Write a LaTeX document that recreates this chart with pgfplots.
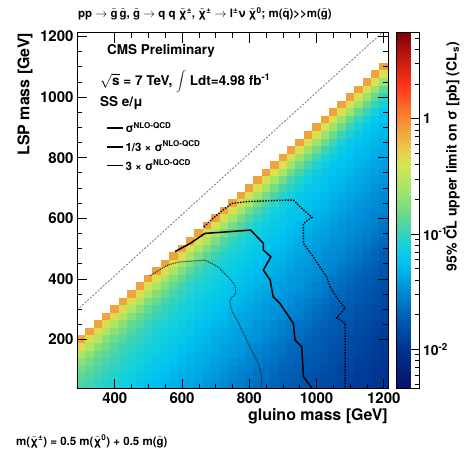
\documentclass[border=0pt]{standalone}
\usepackage{pgfplots}
\pgfplotsset{compat=1.18}
\usepackage{pgfplotstable}
\usepackage{fontspec}
\setmainfont{TeX Gyre Heros}
\newcommand{\tl}[1]{\ensuremath{\tilde{\hbox{#1}}}}

% ROOT-like rainbow palette, positions follow log10(limit) from -2.34 to 0.745
\pgfplotsset{colormap={cmsrainbow}{
  rgb(0pt)=(0.04,0.07,0.40)
  rgb(110pt)=(0.00,0.20,0.56)
  rgb(207pt)=(0.00,0.38,0.72)
  rgb(288pt)=(0.00,0.58,0.86)
  rgb(353pt)=(0.00,0.76,0.94)
  rgb(402pt)=(0.08,0.82,0.86)
  rgb(451pt)=(0.27,0.83,0.68)
  rgb(499pt)=(0.45,0.86,0.52)
  rgb(564pt)=(0.65,0.90,0.40)
  rgb(629pt)=(0.84,0.90,0.32)
  rgb(677pt)=(0.92,0.78,0.28)
  rgb(726pt)=(0.94,0.64,0.24)
  rgb(791pt)=(0.98,0.42,0.16)
  rgb(856pt)=(1.00,0.20,0.10)
  rgb(1000pt)=(0.50,0.00,0.03)
}}

% 95% CL upper limit [pb], gluino mass x, LSP mass y (25 GeV cells)
\pgfplotstableread[row sep=\\]{
x y v\\
300 200 0.794\\ 325 225 0.794\\ 350 250 0.794\\ 375 275 0.794\\ 400 300 0.794\\ 425 325 0.794\\ 450 350 0.794\\ 475 375 0.794\\ 500 400 0.794\\ 525 425 0.794\\ 550 450 0.794\\ 575 475 0.794\\ 600 500 0.794\\ 625 525 0.794\\ 650 550 0.794\\ 675 575 0.794\\ 700 600 0.794\\ 725 625 0.794\\ 750 650 0.794\\ 775 675 0.794\\ 800 700 0.794\\ 825 725 0.794\\ 850 750 0.794\\ 875 775 0.794\\ 900 800 0.794\\ 925 825 0.794\\ 950 850 0.794\\ 975 875 0.794\\ 1000 900 0.794\\ 1025 925 0.794\\ 1050 950 0.794\\ 1075 975 0.794\\ 1100 1000 0.794\\ 1125 1025 0.794\\ 1150 1050 0.794\\ 1175 1075 0.794\\ 1200 1100 0.794\\
300 175 0.447\\ 325 200 0.447\\ 350 225 0.447\\ 375 250 0.447\\ 400 275 0.447\\ 425 300 0.447\\ 450 325 0.447\\ 475 350 0.447\\ 500 375 0.434\\ 525 400 0.434\\ 550 425 0.434\\ 575 450 0.434\\ 600 475 0.434\\ 625 500 0.434\\ 650 525 0.434\\ 675 550 0.434\\ 700 575 0.434\\ 725 600 0.434\\ 750 625 0.434\\ 775 650 0.434\\ 800 675 0.434\\ 825 700 0.434\\ 850 725 0.434\\ 875 750 0.422\\ 900 775 0.422\\ 925 800 0.422\\ 950 825 0.422\\ 975 850 0.422\\ 1000 875 0.422\\ 1025 900 0.422\\ 1050 925 0.422\\ 1075 950 0.422\\ 1100 975 0.422\\ 1125 1000 0.422\\ 1150 1025 0.422\\ 1175 1050 0.422\\ 1200 1075 0.422\\
300 150 0.282\\ 325 175 0.282\\ 350 200 0.282\\ 375 225 0.274\\ 400 250 0.274\\ 425 275 0.274\\ 450 300 0.274\\ 475 325 0.266\\ 500 350 0.266\\ 525 375 0.266\\ 550 400 0.266\\ 575 425 0.266\\ 600 450 0.259\\ 625 475 0.259\\ 650 500 0.259\\ 675 525 0.259\\ 700 550 0.251\\ 725 575 0.251\\ 750 600 0.251\\ 775 625 0.251\\ 800 650 0.251\\ 825 675 0.244\\ 850 700 0.244\\ 875 725 0.244\\ 900 750 0.244\\ 925 775 0.237\\ 950 800 0.237\\ 975 825 0.237\\ 1000 850 0.237\\ 1025 875 0.237\\ 1050 900 0.230\\ 1075 925 0.230\\ 1100 950 0.230\\ 1125 975 0.230\\ 1150 1000 0.224\\ 1175 1025 0.224\\ 1200 1050 0.224\\
300 125 0.200\\ 325 150 0.200\\ 350 175 0.194\\ 375 200 0.194\\ 400 225 0.194\\ 425 250 0.188\\ 450 275 0.188\\ 475 300 0.188\\ 500 325 0.183\\ 525 350 0.183\\ 550 375 0.183\\ 575 400 0.178\\ 600 425 0.178\\ 625 450 0.178\\ 650 475 0.173\\ 675 500 0.173\\ 700 525 0.173\\ 725 550 0.168\\ 750 575 0.168\\ 775 600 0.168\\ 800 625 0.163\\ 825 650 0.163\\ 850 675 0.163\\ 875 700 0.158\\ 900 725 0.158\\ 925 750 0.158\\ 950 775 0.154\\ 975 800 0.154\\ 1000 825 0.154\\ 1025 850 0.150\\ 1050 875 0.150\\ 1075 900 0.150\\ 1100 925 0.145\\ 1125 950 0.145\\ 1150 975 0.145\\ 1175 1000 0.141\\ 1200 1025 0.141\\
300 100 0.158\\ 325 125 0.158\\ 350 150 0.154\\ 375 175 0.154\\ 400 200 0.150\\ 425 225 0.150\\ 450 250 0.145\\ 475 275 0.145\\ 500 300 0.141\\ 525 325 0.141\\ 550 350 0.141\\ 575 375 0.137\\ 600 400 0.137\\ 625 425 0.133\\ 650 450 0.133\\ 675 475 0.130\\ 700 500 0.130\\ 725 525 0.126\\ 750 550 0.126\\ 775 575 0.126\\ 800 600 0.122\\ 825 625 0.122\\ 850 650 0.119\\ 875 675 0.119\\ 900 700 0.115\\ 925 725 0.115\\ 950 750 0.112\\ 975 775 0.112\\ 1000 800 0.112\\ 1025 825 0.109\\ 1050 850 0.109\\ 1075 875 0.106\\ 1100 900 0.106\\ 1125 925 0.103\\ 1150 950 0.103\\ 1175 975 0.100\\ 1200 1000 0.100\\
300 75 0.133\\ 325 100 0.133\\ 350 125 0.130\\ 375 150 0.130\\ 400 175 0.126\\ 425 200 0.126\\ 450 225 0.122\\ 475 250 0.122\\ 500 275 0.119\\ 525 300 0.115\\ 550 325 0.115\\ 575 350 0.112\\ 600 375 0.112\\ 625 400 0.109\\ 650 425 0.109\\ 675 450 0.106\\ 700 475 0.106\\ 725 500 0.103\\ 750 525 0.100\\ 775 550 0.100\\ 800 575 0.0972\\ 825 600 0.0972\\ 850 625 0.0944\\ 875 650 0.0944\\ 900 675 0.0917\\ 925 700 0.0917\\ 950 725 0.0891\\ 975 750 0.0866\\ 1000 775 0.0866\\ 1025 800 0.0841\\ 1050 825 0.0841\\ 1075 850 0.0818\\ 1100 875 0.0818\\ 1125 900 0.0794\\ 1150 925 0.0794\\ 1175 950 0.0772\\ 1200 975 0.0750\\
300 50 0.119\\ 325 75 0.119\\ 350 100 0.115\\ 375 125 0.115\\ 400 150 0.112\\ 425 175 0.109\\ 450 200 0.109\\ 475 225 0.106\\ 500 250 0.103\\ 525 275 0.103\\ 550 300 0.100\\ 575 325 0.100\\ 600 350 0.0972\\ 625 375 0.0944\\ 650 400 0.0944\\ 675 425 0.0917\\ 700 450 0.0891\\ 725 475 0.0891\\ 750 500 0.0866\\ 775 525 0.0866\\ 800 550 0.0841\\ 825 575 0.0818\\ 850 600 0.0818\\ 875 625 0.0794\\ 900 650 0.0772\\ 925 675 0.0772\\ 950 700 0.0750\\ 975 725 0.0750\\ 1000 750 0.0729\\ 1025 775 0.0708\\ 1050 800 0.0708\\ 1075 825 0.0688\\ 1100 850 0.0668\\ 1125 875 0.0668\\ 1150 900 0.0649\\ 1175 925 0.0649\\ 1200 950 0.0631\\
325 50 0.109\\ 350 75 0.106\\ 375 100 0.103\\ 400 125 0.103\\ 425 150 0.100\\ 450 175 0.0972\\ 475 200 0.0972\\ 500 225 0.0944\\ 525 250 0.0917\\ 550 275 0.0917\\ 575 300 0.0891\\ 600 325 0.0866\\ 625 350 0.0866\\ 650 375 0.0841\\ 675 400 0.0841\\ 700 425 0.0818\\ 725 450 0.0794\\ 750 475 0.0794\\ 775 500 0.0772\\ 800 525 0.0750\\ 825 550 0.0750\\ 850 575 0.0729\\ 875 600 0.0708\\ 900 625 0.0708\\ 925 650 0.0688\\ 950 675 0.0668\\ 975 700 0.0668\\ 1000 725 0.0649\\ 1025 750 0.0649\\ 1050 775 0.0631\\ 1075 800 0.0613\\ 1100 825 0.0613\\ 1125 850 0.0596\\ 1150 875 0.0579\\ 1175 900 0.0579\\ 1200 925 0.0562\\
350 50 0.0972\\ 375 75 0.0944\\ 400 100 0.0944\\ 425 125 0.0917\\ 450 150 0.0891\\ 475 175 0.0891\\ 500 200 0.0866\\ 525 225 0.0841\\ 550 250 0.0841\\ 575 275 0.0818\\ 600 300 0.0818\\ 625 325 0.0794\\ 650 350 0.0772\\ 675 375 0.0772\\ 700 400 0.0750\\ 725 425 0.0729\\ 750 450 0.0729\\ 775 475 0.0708\\ 800 500 0.0708\\ 825 525 0.0688\\ 850 550 0.0668\\ 875 575 0.0668\\ 900 600 0.0649\\ 925 625 0.0631\\ 950 650 0.0631\\ 975 675 0.0613\\ 1000 700 0.0613\\ 1025 725 0.0596\\ 1050 750 0.0579\\ 1075 775 0.0579\\ 1100 800 0.0562\\ 1125 825 0.0546\\ 1150 850 0.0546\\ 1175 875 0.0531\\ 1200 900 0.0531\\
375 50 0.0891\\ 400 75 0.0866\\ 425 100 0.0866\\ 450 125 0.0841\\ 475 150 0.0818\\ 500 175 0.0818\\ 525 200 0.0794\\ 550 225 0.0772\\ 575 250 0.0772\\ 600 275 0.0750\\ 625 300 0.0750\\ 650 325 0.0729\\ 675 350 0.0708\\ 700 375 0.0708\\ 725 400 0.0688\\ 750 425 0.0688\\ 775 450 0.0668\\ 800 475 0.0649\\ 825 500 0.0649\\ 850 525 0.0631\\ 875 550 0.0631\\ 900 575 0.0613\\ 925 600 0.0596\\ 950 625 0.0596\\ 975 650 0.0579\\ 1000 675 0.0562\\ 1025 700 0.0562\\ 1050 725 0.0546\\ 1075 750 0.0546\\ 1100 775 0.0531\\ 1125 800 0.0516\\ 1150 825 0.0516\\ 1175 850 0.0501\\ 1200 875 0.0501\\
400 50 0.0818\\ 425 75 0.0794\\ 450 100 0.0794\\ 475 125 0.0772\\ 500 150 0.0750\\ 525 175 0.0750\\ 550 200 0.0729\\ 575 225 0.0729\\ 600 250 0.0708\\ 625 275 0.0688\\ 650 300 0.0688\\ 675 325 0.0668\\ 700 350 0.0668\\ 725 375 0.0649\\ 750 400 0.0631\\ 775 425 0.0631\\ 800 450 0.0613\\ 825 475 0.0613\\ 850 500 0.0596\\ 875 525 0.0579\\ 900 550 0.0579\\ 925 575 0.0562\\ 950 600 0.0562\\ 975 625 0.0546\\ 1000 650 0.0531\\ 1025 675 0.0531\\ 1050 700 0.0516\\ 1075 725 0.0516\\ 1100 750 0.0501\\ 1125 775 0.0487\\ 1150 800 0.0487\\ 1175 825 0.0473\\ 1200 850 0.0473\\
425 50 0.0750\\ 450 75 0.0729\\ 475 100 0.0729\\ 500 125 0.0708\\ 525 150 0.0688\\ 550 175 0.0688\\ 575 200 0.0668\\ 600 225 0.0668\\ 625 250 0.0649\\ 650 275 0.0649\\ 675 300 0.0631\\ 700 325 0.0613\\ 725 350 0.0613\\ 750 375 0.0596\\ 775 400 0.0596\\ 800 425 0.0579\\ 825 450 0.0562\\ 850 475 0.0562\\ 875 500 0.0546\\ 900 525 0.0546\\ 925 550 0.0531\\ 950 575 0.0516\\ 975 600 0.0516\\ 1000 625 0.0501\\ 1025 650 0.0501\\ 1050 675 0.0487\\ 1075 700 0.0487\\ 1100 725 0.0473\\ 1125 750 0.0460\\ 1150 775 0.0460\\ 1175 800 0.0447\\ 1200 825 0.0447\\
450 50 0.0688\\ 475 75 0.0668\\ 500 100 0.0668\\ 525 125 0.0649\\ 550 150 0.0649\\ 575 175 0.0631\\ 600 200 0.0613\\ 625 225 0.0613\\ 650 250 0.0596\\ 675 275 0.0596\\ 700 300 0.0579\\ 725 325 0.0579\\ 750 350 0.0562\\ 775 375 0.0546\\ 800 400 0.0546\\ 825 425 0.0531\\ 850 450 0.0531\\ 875 475 0.0516\\ 900 500 0.0516\\ 925 525 0.0501\\ 950 550 0.0487\\ 975 575 0.0487\\ 1000 600 0.0473\\ 1025 625 0.0473\\ 1050 650 0.0460\\ 1075 675 0.0447\\ 1100 700 0.0447\\ 1125 725 0.0434\\ 1150 750 0.0434\\ 1175 775 0.0422\\ 1200 800 0.0422\\
475 50 0.0631\\ 500 75 0.0631\\ 525 100 0.0613\\ 550 125 0.0613\\ 575 150 0.0596\\ 600 175 0.0579\\ 625 200 0.0579\\ 650 225 0.0562\\ 675 250 0.0562\\ 700 275 0.0546\\ 725 300 0.0546\\ 750 325 0.0531\\ 775 350 0.0516\\ 800 375 0.0516\\ 825 400 0.0501\\ 850 425 0.0501\\ 875 450 0.0487\\ 900 475 0.0487\\ 925 500 0.0473\\ 950 525 0.0460\\ 975 550 0.0460\\ 1000 575 0.0447\\ 1025 600 0.0447\\ 1050 625 0.0434\\ 1075 650 0.0422\\ 1100 675 0.0422\\ 1125 700 0.0410\\ 1150 725 0.0410\\ 1175 750 0.0398\\ 1200 775 0.0398\\
500 50 0.0596\\ 525 75 0.0579\\ 550 100 0.0579\\ 575 125 0.0562\\ 600 150 0.0546\\ 625 175 0.0546\\ 650 200 0.0531\\ 675 225 0.0531\\ 700 250 0.0516\\ 725 275 0.0516\\ 750 300 0.0501\\ 775 325 0.0487\\ 800 350 0.0487\\ 825 375 0.0473\\ 850 400 0.0473\\ 875 425 0.0460\\ 900 450 0.0460\\ 925 475 0.0447\\ 950 500 0.0434\\ 975 525 0.0434\\ 1000 550 0.0422\\ 1025 575 0.0422\\ 1050 600 0.0410\\ 1075 625 0.0398\\ 1100 650 0.0398\\ 1125 675 0.0387\\ 1150 700 0.0387\\ 1175 725 0.0376\\ 1200 750 0.0376\\
525 50 0.0546\\ 550 75 0.0546\\ 575 100 0.0531\\ 600 125 0.0516\\ 625 150 0.0516\\ 650 175 0.0501\\ 675 200 0.0501\\ 700 225 0.0487\\ 725 250 0.0487\\ 750 275 0.0473\\ 775 300 0.0460\\ 800 325 0.0460\\ 825 350 0.0447\\ 850 375 0.0447\\ 875 400 0.0434\\ 900 425 0.0434\\ 925 450 0.0422\\ 950 475 0.0410\\ 975 500 0.0410\\ 1000 525 0.0398\\ 1025 550 0.0398\\ 1050 575 0.0387\\ 1075 600 0.0376\\ 1100 625 0.0376\\ 1125 650 0.0365\\ 1150 675 0.0365\\ 1175 700 0.0355\\ 1200 725 0.0355\\
550 50 0.0516\\ 575 75 0.0501\\ 600 100 0.0487\\ 625 125 0.0487\\ 650 150 0.0473\\ 675 175 0.0473\\ 700 200 0.0460\\ 725 225 0.0460\\ 750 250 0.0447\\ 775 275 0.0434\\ 800 300 0.0434\\ 825 325 0.0422\\ 850 350 0.0422\\ 875 375 0.0410\\ 900 400 0.0410\\ 925 425 0.0398\\ 950 450 0.0387\\ 975 475 0.0387\\ 1000 500 0.0376\\ 1025 525 0.0376\\ 1050 550 0.0365\\ 1075 575 0.0355\\ 1100 600 0.0355\\ 1125 625 0.0345\\ 1150 650 0.0345\\ 1175 675 0.0335\\ 1200 700 0.0335\\
575 50 0.0473\\ 600 75 0.0473\\ 625 100 0.0460\\ 650 125 0.0460\\ 675 150 0.0447\\ 700 175 0.0447\\ 725 200 0.0434\\ 750 225 0.0422\\ 775 250 0.0422\\ 800 275 0.0410\\ 825 300 0.0410\\ 850 325 0.0398\\ 875 350 0.0398\\ 900 375 0.0387\\ 925 400 0.0376\\ 950 425 0.0376\\ 975 450 0.0365\\ 1000 475 0.0365\\ 1025 500 0.0355\\ 1050 525 0.0345\\ 1075 550 0.0345\\ 1100 575 0.0335\\ 1125 600 0.0335\\ 1150 625 0.0326\\ 1175 650 0.0326\\ 1200 675 0.0316\\
600 50 0.0447\\ 625 75 0.0447\\ 650 100 0.0434\\ 675 125 0.0434\\ 700 150 0.0422\\ 725 175 0.0410\\ 750 200 0.0410\\ 775 225 0.0398\\ 800 250 0.0398\\ 825 275 0.0387\\ 850 300 0.0376\\ 875 325 0.0376\\ 900 350 0.0365\\ 925 375 0.0365\\ 950 400 0.0355\\ 975 425 0.0355\\ 1000 450 0.0345\\ 1025 475 0.0335\\ 1050 500 0.0335\\ 1075 525 0.0326\\ 1100 550 0.0326\\ 1125 575 0.0316\\ 1150 600 0.0316\\ 1175 625 0.0307\\ 1200 650 0.0299\\
625 50 0.0422\\ 650 75 0.0422\\ 675 100 0.0410\\ 700 125 0.0398\\ 725 150 0.0398\\ 750 175 0.0387\\ 775 200 0.0387\\ 800 225 0.0376\\ 825 250 0.0365\\ 850 275 0.0365\\ 875 300 0.0355\\ 900 325 0.0355\\ 925 350 0.0345\\ 950 375 0.0345\\ 975 400 0.0335\\ 1000 425 0.0326\\ 1025 450 0.0326\\ 1050 475 0.0316\\ 1075 500 0.0316\\ 1100 525 0.0307\\ 1125 550 0.0307\\ 1150 575 0.0299\\ 1175 600 0.0290\\ 1200 625 0.0290\\
650 50 0.0398\\ 675 75 0.0387\\ 700 100 0.0387\\ 725 125 0.0376\\ 750 150 0.0376\\ 775 175 0.0365\\ 800 200 0.0355\\ 825 225 0.0355\\ 850 250 0.0345\\ 875 275 0.0345\\ 900 300 0.0335\\ 925 325 0.0335\\ 950 350 0.0326\\ 975 375 0.0316\\ 1000 400 0.0316\\ 1025 425 0.0307\\ 1050 450 0.0307\\ 1075 475 0.0299\\ 1100 500 0.0290\\ 1125 525 0.0290\\ 1150 550 0.0282\\ 1175 575 0.0282\\ 1200 600 0.0274\\
675 50 0.0365\\ 700 75 0.0365\\ 725 100 0.0355\\ 750 125 0.0345\\ 775 150 0.0345\\ 800 175 0.0335\\ 825 200 0.0335\\ 850 225 0.0326\\ 875 250 0.0316\\ 900 275 0.0316\\ 925 300 0.0307\\ 950 325 0.0307\\ 975 350 0.0299\\ 1000 375 0.0290\\ 1025 400 0.0290\\ 1050 425 0.0282\\ 1075 450 0.0274\\ 1100 475 0.0274\\ 1125 500 0.0266\\ 1150 525 0.0266\\ 1175 550 0.0259\\ 1200 575 0.0251\\
700 50 0.0345\\ 725 75 0.0335\\ 750 100 0.0326\\ 775 125 0.0326\\ 800 150 0.0316\\ 825 175 0.0307\\ 850 200 0.0307\\ 875 225 0.0299\\ 900 250 0.0290\\ 925 275 0.0290\\ 950 300 0.0282\\ 975 325 0.0274\\ 1000 350 0.0274\\ 1025 375 0.0266\\ 1050 400 0.0259\\ 1075 425 0.0259\\ 1100 450 0.0251\\ 1125 475 0.0251\\ 1150 500 0.0244\\ 1175 525 0.0237\\ 1200 550 0.0237\\
725 50 0.0316\\ 750 75 0.0307\\ 775 100 0.0299\\ 800 125 0.0299\\ 825 150 0.0290\\ 850 175 0.0282\\ 875 200 0.0282\\ 900 225 0.0274\\ 925 250 0.0266\\ 950 275 0.0266\\ 975 300 0.0259\\ 1000 325 0.0251\\ 1025 350 0.0251\\ 1050 375 0.0244\\ 1075 400 0.0237\\ 1100 425 0.0237\\ 1125 450 0.0230\\ 1150 475 0.0224\\ 1175 500 0.0218\\ 1200 525 0.0218\\
750 50 0.0290\\ 775 75 0.0282\\ 800 100 0.0282\\ 825 125 0.0274\\ 850 150 0.0266\\ 875 175 0.0259\\ 900 200 0.0259\\ 925 225 0.0251\\ 950 250 0.0244\\ 975 275 0.0244\\ 1000 300 0.0237\\ 1025 325 0.0230\\ 1050 350 0.0224\\ 1075 375 0.0224\\ 1100 400 0.0218\\ 1125 425 0.0211\\ 1150 450 0.0205\\ 1175 475 0.0205\\ 1200 500 0.0200\\
775 50 0.0274\\ 800 75 0.0266\\ 825 100 0.0259\\ 850 125 0.0251\\ 875 150 0.0251\\ 900 175 0.0244\\ 925 200 0.0237\\ 950 225 0.0230\\ 975 250 0.0230\\ 1000 275 0.0224\\ 1025 300 0.0218\\ 1050 325 0.0211\\ 1075 350 0.0211\\ 1100 375 0.0205\\ 1125 400 0.0200\\ 1150 425 0.0194\\ 1175 450 0.0194\\ 1200 475 0.0188\\
800 50 0.0251\\ 825 75 0.0244\\ 850 100 0.0237\\ 875 125 0.0237\\ 900 150 0.0230\\ 925 175 0.0224\\ 950 200 0.0218\\ 975 225 0.0218\\ 1000 250 0.0211\\ 1025 275 0.0205\\ 1050 300 0.0200\\ 1075 325 0.0200\\ 1100 350 0.0194\\ 1125 375 0.0188\\ 1150 400 0.0183\\ 1175 425 0.0183\\ 1200 450 0.0178\\
825 50 0.0230\\ 850 75 0.0230\\ 875 100 0.0224\\ 900 125 0.0218\\ 925 150 0.0211\\ 950 175 0.0211\\ 975 200 0.0205\\ 1000 225 0.0200\\ 1025 250 0.0194\\ 1050 275 0.0194\\ 1075 300 0.0188\\ 1100 325 0.0183\\ 1125 350 0.0178\\ 1150 375 0.0178\\ 1175 400 0.0173\\ 1200 425 0.0168\\
850 50 0.0218\\ 875 75 0.0211\\ 900 100 0.0205\\ 925 125 0.0205\\ 950 150 0.0200\\ 975 175 0.0194\\ 1000 200 0.0188\\ 1025 225 0.0183\\ 1050 250 0.0183\\ 1075 275 0.0178\\ 1100 300 0.0173\\ 1125 325 0.0168\\ 1150 350 0.0168\\ 1175 375 0.0163\\ 1200 400 0.0158\\
875 50 0.0205\\ 900 75 0.0200\\ 925 100 0.0194\\ 950 125 0.0188\\ 975 150 0.0188\\ 1000 175 0.0183\\ 1025 200 0.0178\\ 1050 225 0.0173\\ 1075 250 0.0168\\ 1100 275 0.0168\\ 1125 300 0.0163\\ 1150 325 0.0158\\ 1175 350 0.0154\\ 1200 375 0.0154\\
900 50 0.0188\\ 925 75 0.0188\\ 950 100 0.0183\\ 975 125 0.0178\\ 1000 150 0.0173\\ 1025 175 0.0173\\ 1050 200 0.0168\\ 1075 225 0.0163\\ 1100 250 0.0158\\ 1125 275 0.0154\\ 1150 300 0.0154\\ 1175 325 0.0150\\ 1200 350 0.0145\\
925 50 0.0178\\ 950 75 0.0178\\ 975 100 0.0173\\ 1000 125 0.0168\\ 1025 150 0.0163\\ 1050 175 0.0158\\ 1075 200 0.0158\\ 1100 225 0.0154\\ 1125 250 0.0150\\ 1150 275 0.0145\\ 1175 300 0.0141\\ 1200 325 0.0141\\
950 50 0.0168\\ 975 75 0.0163\\ 1000 100 0.0158\\ 1025 125 0.0158\\ 1050 150 0.0154\\ 1075 175 0.0150\\ 1100 200 0.0145\\ 1125 225 0.0141\\ 1150 250 0.0141\\ 1175 275 0.0137\\ 1200 300 0.0133\\
975 50 0.0158\\ 1000 75 0.0154\\ 1025 100 0.0150\\ 1050 125 0.0150\\ 1075 150 0.0145\\ 1100 175 0.0141\\ 1125 200 0.0137\\ 1150 225 0.0133\\ 1175 250 0.0133\\ 1200 275 0.0130\\
1000 50 0.0150\\ 1025 75 0.0145\\ 1050 100 0.0141\\ 1075 125 0.0141\\ 1100 150 0.0137\\ 1125 175 0.0133\\ 1150 200 0.0130\\ 1175 225 0.0126\\ 1200 250 0.0126\\
1025 50 0.0141\\ 1050 75 0.0137\\ 1075 100 0.0133\\ 1100 125 0.0133\\ 1125 150 0.0130\\ 1150 175 0.0126\\ 1175 200 0.0122\\ 1200 225 0.0119\\
1050 50 0.0133\\ 1075 75 0.0130\\ 1100 100 0.0126\\ 1125 125 0.0122\\ 1150 150 0.0122\\ 1175 175 0.0119\\ 1200 200 0.0115\\
1075 50 0.0126\\ 1100 75 0.0122\\ 1125 100 0.0119\\ 1150 125 0.0119\\ 1175 150 0.0115\\ 1200 175 0.0112\\
1100 50 0.0119\\ 1125 75 0.0115\\ 1150 100 0.0115\\ 1175 125 0.0112\\ 1200 150 0.0109\\
1125 50 0.0112\\ 1150 75 0.0112\\ 1175 100 0.0109\\ 1200 125 0.0106\\
1150 50 0.0109\\ 1175 75 0.0106\\ 1200 100 0.0103\\
1175 50 0.0103\\ 1200 75 0.0103\\
1200 50 0.0100\\
}\limtab

\begin{document}
\begin{tikzpicture}
\useasboundingbox (0,0) rectangle (475pt,452pt);
\begin{axis}[
  at={(77pt,63.3pt)}, anchor=south west,
  scale only axis, width=311pt, height=356pt,
  xmin=287.5, xmax=1212.5, ymin=37.5, ymax=1212.5,
  axis on top,
  clip marker paths=true,
  xtick={400,600,800,1000,1200},
  ytick={200,400,600,800,1000,1200},
  minor x tick num=3, minor y tick num=3,
  xtick pos=both, ytick pos=both,
  tick align=inside,
  major tick length=10pt, minor tick length=5pt,
  every tick/.style={black, line width=0.7pt},
  axis line style={line width=0.9pt},
  ticklabel style={font=\bfseries\fontsize{15}{15}\selectfont},
  /pgf/number format/assume math mode=true,
  /pgf/number format/1000 sep={},
  xlabel={gluino mass [GeV]},
  xlabel style={at={(axis description cs:1,0)}, anchor=east, inner sep=0pt,
    yshift=-28pt, font=\bfseries\fontsize{16}{16}\selectfont},
  ylabel={LSP mass [GeV]},
  ylabel style={at={(axis description cs:-0.167,1)}, anchor=east, inner sep=0pt,
    font=\bfseries\fontsize{16}{16}\selectfont},
  colormap name=cmsrainbow,
  point meta min=-2.34, point meta max=0.745,
  colorbar,
  colorbar style={
    at={(parent axis.north east)}, anchor=north west, xshift=0pt,
    scale only axis, width=23pt, height=356pt,
    ytick={-2,-1,0},
    yticklabels={10\textsuperscript{-2},10\textsuperscript{-1},1},
    minor ytick={-2.301,-2.222,-2.155,-2.097,-2.046,-1.699,-1.523,-1.398,-1.301,-1.222,-1.155,-1.097,-1.046,-0.699,-0.523,-0.398,-0.301,-0.222,-0.155,-0.097,-0.046,0.301,0.477,0.602,0.699},
    ytick pos=right, yticklabel pos=right,
    tick align=inside,
    major tick length=9pt, minor tick length=5pt,
    every tick/.style={black, line width=0.7pt},
    axis line style={line width=0.9pt},
    yticklabel style={font=\bfseries\fontsize{14}{14}\selectfont},
  },
  legend style={at={(axis description cs:0.093,0.755)}, anchor=north west,
    draw=none, fill=none, inner sep=0pt, row sep=3pt,
    font=\bfseries\fontsize{11.5}{11.5}\selectfont},
  legend cell align=left,
  legend image code/.code={\draw[#1] (0pt,0pt) -- (16pt,0pt);},
]
\addplot[forget plot, scatter, only marks, mark=square*, mark size=4.2027pt,
  mark options={yscale=0.9012},
  scatter/use mapped color={draw=mapped color, fill=mapped color},
  point meta={ln(\thisrow{v})/ln(10)}]
  table[x=x, y=y] {\limtab};

% m(LSP) = m(gluino) guide line
\addplot[forget plot, gray, line width=0.9pt, dash pattern=on 2pt off 1.5pt]
  coordinates {(287.5,297) (1195,1212.5)};

% sigma NLO-QCD contour
\addplot[forget plot, black, line width=1.5pt] coordinates {
  (579,490) (624,517) (668,550) (743,556) (804,561) (842,517) (842,495)
  (864,473) (842,429) (862,396) (871,341) (891,319) (931,253) (936,198)
  (956,176) (961,77) (986,40)};
% 3 x sigma contour
\addplot[forget plot, black, line width=1.4pt, dash pattern=on 1.4pt off 1.4pt] coordinates {
  (665,572) (690,598) (720,626) (748,649) (792,655) (911,660) (931,660)
  (951,638) (986,603) (961,583) (961,517) (986,479) (1030,407) (1040,374)
  (1065,330) (1085,303) (1060,272) (1085,253) (1085,40)};
% 1/3 x sigma contour
\addplot[forget plot, black!85, line width=1pt, dash pattern=on 1pt off 1pt] coordinates {
  (504,411) (558,446) (588,455) (667,462) (707,440) (742,400) (757,380)
  (760,352) (742,330) (747,297) (768,255) (789,204) (809,160) (829,116)
  (836,77) (836,40)};

\addlegendimage{black, line width=1.4pt}
\addlegendentry{σ\textsuperscript{NLO-QCD}}
\addlegendimage{black, line width=1.4pt}
\addlegendentry{1/3 × σ\textsuperscript{NLO-QCD}}
\addlegendimage{black, line width=1.4pt}
\addlegendentry{3 × σ\textsuperscript{NLO-QCD}}
\end{axis}

\node[font=\bfseries\fontsize{11.5}{11.5}\selectfont] at (205pt,438pt)
  {pp $\rightarrow$ \tl{g}\,\tl{g}, \tl{g} $\rightarrow$ q q \tl{χ}\textsuperscript{±}, \tl{χ}\textsuperscript{±} $\rightarrow$ l\textsuperscript{±}ν \tl{χ}\textsuperscript{0}; m(\tl{q})\textgreater{}\textgreater{}m(\tl{g})};
\node[anchor=west, inner sep=0pt, font=\bfseries\fontsize{13.5}{13.5}\selectfont] at (107pt,401pt) {CMS Preliminary};
\node[anchor=west, inner sep=0pt, font=\bfseries\fontsize{13.5}{13.5}\selectfont] at (100pt,370pt)
  {$\sqrt{\hbox{s}}$ = 7 TeV, $\displaystyle\int$ Ldt=4.98 fb\textsuperscript{-1}};
\node[anchor=west, inner sep=0pt, font=\bfseries\fontsize{13.5}{13.5}\selectfont] at (100pt,349pt) {SS e/μ};
\node[anchor=west, inner sep=0pt, font=\bfseries\fontsize{11.5}{11.5}\selectfont] at (16pt,10.5pt)
  {m(\tl{χ}\textsuperscript{±}) = 0.5 m(\tl{χ}\textsuperscript{0}) + 0.5 m(\tl{g})};
\node[rotate=90, anchor=east, inner sep=0pt, font=\bfseries\fontsize{14}{14}\selectfont] at (453pt,410pt)
  {95\% CL upper limit on σ [pb] (CL\textsubscript{s})};
\end{tikzpicture}
\end{document}
